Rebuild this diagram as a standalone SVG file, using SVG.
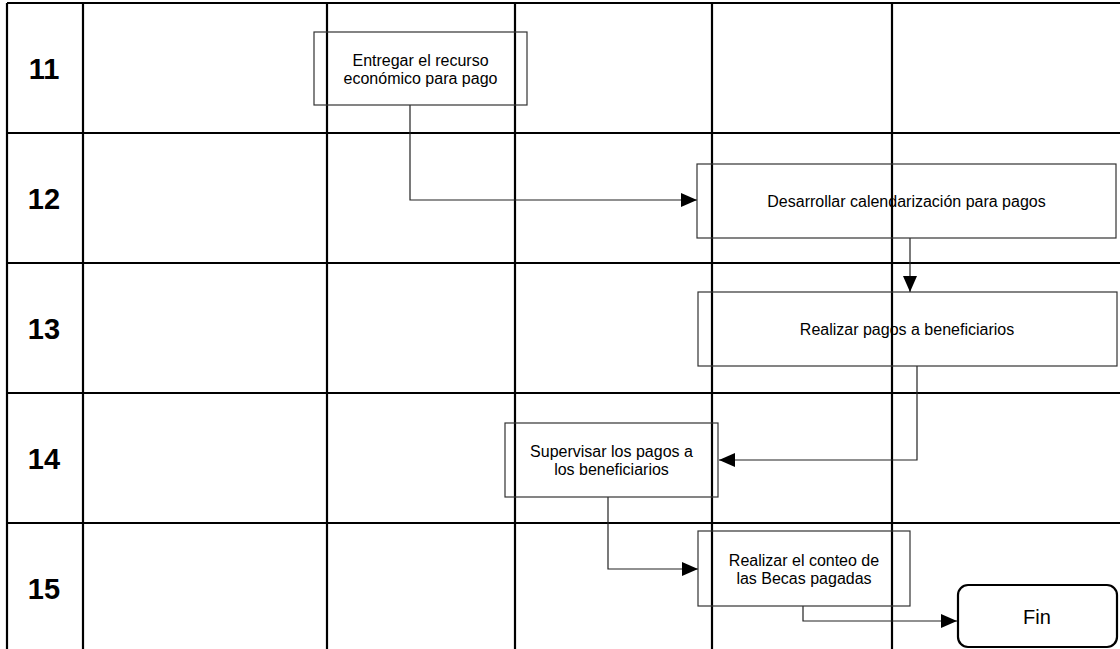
<svg xmlns="http://www.w3.org/2000/svg" width="1120" height="649" viewBox="0 0 1120 649">
  <style>
    .grid { stroke: #000; stroke-width: 2.2; fill: none; }
    .box { fill: none; stroke: #333; stroke-width: 1.2; }
    .term { fill: #fff; stroke: #000; stroke-width: 2.2; }
    .conn { fill: none; stroke: #222; stroke-width: 1.2; }
    .row { font-family: "Liberation Sans", Arial, sans-serif; font-size: 29px; font-weight: bold; text-anchor: middle; fill: #000; }
    .lbl { font-family: "Liberation Sans", Arial, sans-serif; font-size: 16px; text-anchor: middle; fill: #000; }
    .fin { font-family: "Liberation Sans", Arial, sans-serif; font-size: 20px; text-anchor: middle; fill: #000; }
  </style>
  <defs>
    <marker id="arrow" markerUnits="userSpaceOnUse" viewBox="0 0 16 14" refX="16" refY="7" markerWidth="16" markerHeight="14" orient="auto">
      <path d="M0,0 L16,7 L0,14 z" fill="#000"/>
    </marker>
  </defs>

  <rect x="0" y="0" width="1120" height="649" fill="#fff"/>

  <!-- swimlane table -->
  <g id="table">
    <path class="grid" d="M7,3 H1120 M7,133 H1120 M7,263 H1120 M7,393 H1120 M7,523 H1120"/>
    <path class="grid" d="M7,3 V649 M83,3 V649 M327,3 V649 M515,3 V649 M712,3 V649 M892,3 V649"/>
    <text class="row" x="44" y="79">11</text>
    <text class="row" x="44" y="209">12</text>
    <text class="row" x="44" y="339">13</text>
    <text class="row" x="44" y="469">14</text>
    <text class="row" x="44" y="599">15</text>
  </g>

  <!-- connectors -->
  <g id="connectors">
    <path class="conn" d="M410,105 V200 H697" marker-end="url(#arrow)"/>
    <path class="conn" d="M910,238 V292" marker-end="url(#arrow)"/>
    <path class="conn" d="M917,366 V460 H719" marker-end="url(#arrow)"/>
    <path class="conn" d="M608,497 V569 H698" marker-end="url(#arrow)"/>
    <path class="conn" d="M803,606 V621 H957" marker-end="url(#arrow)"/>
  </g>

  <g id="n11">
    <rect class="box" x="314" y="32" width="213" height="73"/>
    <text class="lbl" x="420.5" y="66">Entregar el recurso</text>
    <text class="lbl" x="420.5" y="84">económico para pago</text>
  </g>

  <g id="n12">
    <rect class="box" x="697" y="164" width="419" height="74"/>
    <text class="lbl" x="906.5" y="207">Desarrollar calendarización para pagos</text>
  </g>

  <g id="n13">
    <rect class="box" x="698" y="292" width="419" height="74"/>
    <text class="lbl" x="907" y="335">Realizar pagos a beneficiarios</text>
  </g>

  <g id="n14">
    <rect class="box" x="505" y="423" width="213" height="74"/>
    <text class="lbl" x="611.5" y="457">Supervisar los pagos a</text>
    <text class="lbl" x="611.5" y="475">los beneficiarios</text>
  </g>

  <g id="n15">
    <rect class="box" x="698" y="531" width="212" height="75"/>
    <text class="lbl" x="804" y="566">Realizar el conteo de</text>
    <text class="lbl" x="804" y="584">las Becas pagadas</text>
  </g>

  <g id="fin">
    <rect class="term" x="958" y="585" width="159" height="62" rx="10" ry="10"/>
    <text class="fin" x="1037" y="624">Fin</text>
  </g>
</svg>
